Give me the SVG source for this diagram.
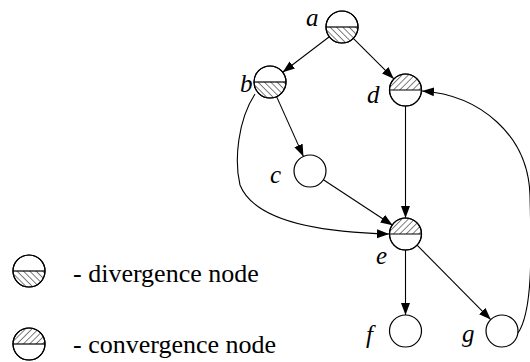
<svg xmlns="http://www.w3.org/2000/svg" width="530" height="362" viewBox="0 0 530 362">
<style>
.ring{fill:#fff;stroke:#000;stroke-width:1.2}
.outline{fill:none;stroke:#000;stroke-width:1.2}
.mid{stroke:#000;stroke-width:1.2}
.edge{fill:none;stroke:#000;stroke-width:1.1;marker-end:url(#arr)}
text{font-family:'Liberation Serif','Times New Roman',Tinos,'DejaVu Serif',serif;fill:#000}
.lbl{font-style:italic;font-size:25px}
.leg{font-size:26px}
</style>
<defs>
<pattern id="hatchDiv" width="4.5" height="4.5" patternUnits="userSpaceOnUse" patternTransform="rotate(-45)"><line x1="0" y1="-1" x2="0" y2="6" stroke="#000" stroke-width="1"/></pattern>
<pattern id="hatchConv" width="4.5" height="4.5" patternUnits="userSpaceOnUse" patternTransform="rotate(45)"><line x1="0" y1="-1" x2="0" y2="6" stroke="#000" stroke-width="1"/></pattern>
<path id="bottomHalf" d="M-16,0 A16,16 0 0 0 16,0 Z"/>
<path id="topHalf" d="M-16,0 A16,16 0 0 1 16,0 Z"/>
<marker id="arr" viewBox="0 0 12 10" refX="12" refY="5" markerWidth="12" markerHeight="10" markerUnits="userSpaceOnUse" orient="auto"><path d="M0,0.5 L12,5 L0,9.5 Z" fill="#000"/></marker>
</defs>

<g id="connectors">
<path class="edge" d="M329.3,36.7 L282.7,72.3"/>
<path class="edge" d="M353.3,38.3 L393.7,78.7"/>
<path class="edge" d="M276.6,96.6 L303.4,156.4"/>
<path class="edge" d="M255,94 C238,120 234,160 240,185 C252,215 300,232 389,234"/>
<path class="edge" d="M323.4,179.8 L392.6,225.2"/>
<path class="edge" d="M405.5,106 L405.5,218"/>
<path class="edge" d="M405.5,250 L405.5,315"/>
<path class="edge" d="M417.3,245.4 L490.7,319.6"/>
<path class="edge" d="M518,333 C534,310 531,240 530,195 C528,135 480,95 422,91"/>
</g>

<g id="node-a">
<g transform="translate(342,27)">
<circle class="ring" r="16"/>
<use href="#bottomHalf" fill="url(#hatchDiv)"/>
<line class="mid" x1="-16" y1="0" x2="16" y2="0"/>
<circle class="outline" r="16"/>
</g>
<text class="lbl" x="306" y="26">a</text>
</g>

<g id="node-b">
<g transform="translate(270,82)">
<circle class="ring" r="16"/>
<use href="#bottomHalf" fill="url(#hatchDiv)"/>
<line class="mid" x1="-16" y1="0" x2="16" y2="0"/>
<circle class="outline" r="16"/>
</g>
<text class="lbl" x="240" y="92">b</text>
</g>

<g id="node-d">
<g transform="translate(405.5,90)">
<circle class="ring" r="16"/>
<use href="#topHalf" fill="url(#hatchConv)"/>
<line class="mid" x1="-16" y1="0" x2="16" y2="0"/>
<circle class="outline" r="16"/>
</g>
<text class="lbl" x="367" y="103">d</text>
</g>

<g id="node-c">
<circle class="ring" cx="310" cy="171" r="16"/>
<text class="lbl" x="270" y="183">c</text>
</g>

<g id="node-e">
<g transform="translate(405.5,234)">
<circle class="ring" r="16"/>
<use href="#topHalf" fill="url(#hatchConv)"/>
<line class="mid" x1="-16" y1="0" x2="16" y2="0"/>
<circle class="outline" r="16"/>
</g>
<text class="lbl" x="376" y="264">e</text>
</g>

<g id="node-f">
<circle class="ring" cx="405.5" cy="331" r="16"/>
<text class="lbl" x="366" y="343">f</text>
</g>

<g id="node-g">
<circle class="ring" cx="502" cy="331" r="16"/>
<text class="lbl" x="462" y="342">g</text>
</g>

<g id="legend-divergence">
<g transform="translate(29,271)">
<circle class="ring" r="16"/>
<use href="#bottomHalf" fill="url(#hatchDiv)"/>
<line class="mid" x1="-16" y1="0" x2="16" y2="0"/>
<circle class="outline" r="16"/>
</g>
<text class="leg" x="73" y="282">- divergence node</text>
</g>

<g id="legend-convergence">
<g transform="translate(29,344)">
<circle class="ring" r="16"/>
<use href="#topHalf" fill="url(#hatchConv)"/>
<line class="mid" x1="-16" y1="0" x2="16" y2="0"/>
<circle class="outline" r="16"/>
</g>
<text class="leg" x="73" y="353">- convergence node</text>
</g>
</svg>
